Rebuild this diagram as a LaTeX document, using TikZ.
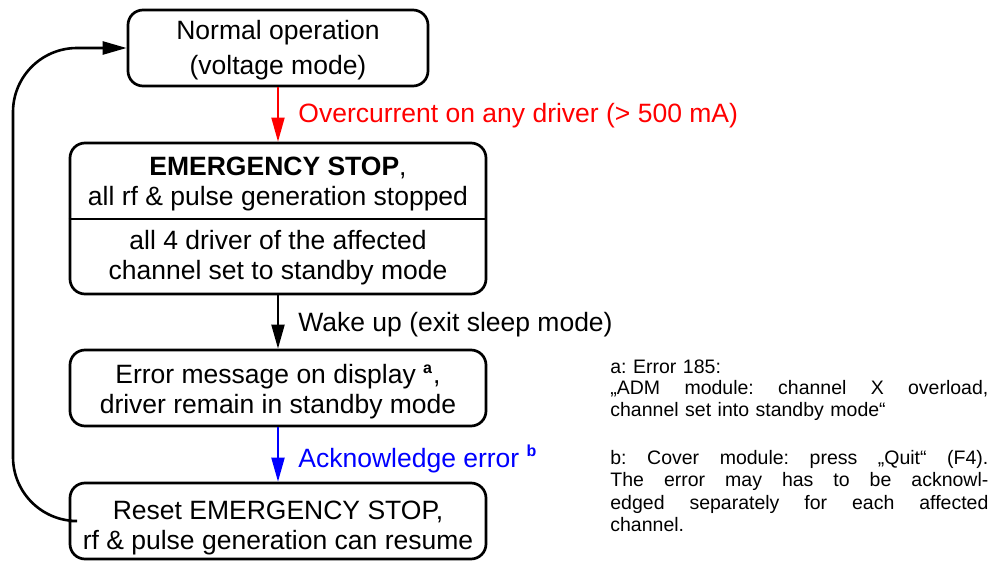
\documentclass[tikz,border=0pt]{standalone}
\usepackage{fontspec}
\setmainfont{Liberation Sans}
\usetikzlibrary{arrows.meta}
\newcommand\mfont{\fontsize{13.25}{15}\selectfont}
\newcommand\nfont{\fontsize{9.75}{10.85}\selectfont\frenchspacing}
\newcommand\jline[1]{\makebox[189pt][s]{#1}}
\begin{document}
\begin{tikzpicture}[x=0.5pt,y=-0.5pt,
  box/.style={draw, line width=1.35pt, rounded corners=7.5pt, minimum width=208pt,
    minimum height=38pt, inner sep=0pt, align=center, font=\mfont},
  txt/.style={inner sep=0pt, align=center, font=\mfont},
  lbl/.style={inner sep=0pt, anchor=west, font=\mfont},
  flow/.style={line width=1pt, -{Triangle[length=12pt,width=6.5pt]}},
  fn/.style={inner sep=0pt, anchor=north west, align=left, text width=189pt, font=\nfont}]
\useasboundingbox (0,0) rectangle (993,562);

\node[box, minimum width=150pt] (b1) at (278,48) {};
\node[txt, font=\fontsize{13.25}{17.5}\selectfont] (b1t) at (278,50) {Normal operation\\(voltage mode)};
\node[box, minimum height=75.5pt] (b2) at (278,218.5) {};
\node[txt] (b2a) at (278,184) {\textbf{EMERGENCY STOP},\\all rf \& pulse generation stopped};
\node[txt] (b2b) at (278,258) {all 4 driver of the affected\\channel set to standby mode};
\coordinate (dv) at (0,219);
\draw[line width=1.2pt] (b2.west |- dv) -- (b2.east |- dv);
\node[box] (b3) at (278,388) {};
\node[txt] (b3t) at (278,392) {Error message on display \textsuperscript{\footnotesize\textbf{a}},\\driver remain in standby mode};
\node[box] (b4) at (278,521) {};
\node[txt] (b4t) at (278,528) {Reset EMERGENCY STOP,\\rf \& pulse generation can resume};

\draw[flow, red, line width=0.9pt] (b1.south) -- (b2.north);
\node[lbl, red] (l1) at (298,116) {Overcurrent on any driver (> 500 mA)};
\draw[flow] (b2.south) -- (b3.north);
\node[lbl] (l2) at (298,325) {Wake up (exit sleep mode)};
\draw[flow, blue] (b3.south) -- (b4.north);
\node[lbl, blue] (l3) at (298,459) {Acknowledge error \textsuperscript{\footnotesize\textbf{b}}};

\coordinate (lx) at (13,0);
\draw[line width=1.3pt, rounded corners=32pt, -{Triangle[length=12pt,width=6.5pt]}]
  (b4.west) -- (b4.west -| lx) -- (b1.west -| lx) -- (b1.west);

\node[fn] (fa) at (610,359) {a: Error 185:\\
\jline{„ADM\hfill module:\hfill channel\hfill X\hfill overload,}\\
channel set into standby mode“};
\node[fn, font=\fontsize{9.75}{11.15}\selectfont\frenchspacing] (fb) at (610,450) {\jline{b:\hfill Cover\hfill module:\hfill press\hfill „Quit“\hfill (F4).}\\
\jline{The\hfill error\hfill may\hfill has\hfill to\hfill be\hfill acknowl-}\\
\jline{edged\hfill separately\hfill for\hfill each\hfill affected}\\
channel.};
\end{tikzpicture}
\end{document}
